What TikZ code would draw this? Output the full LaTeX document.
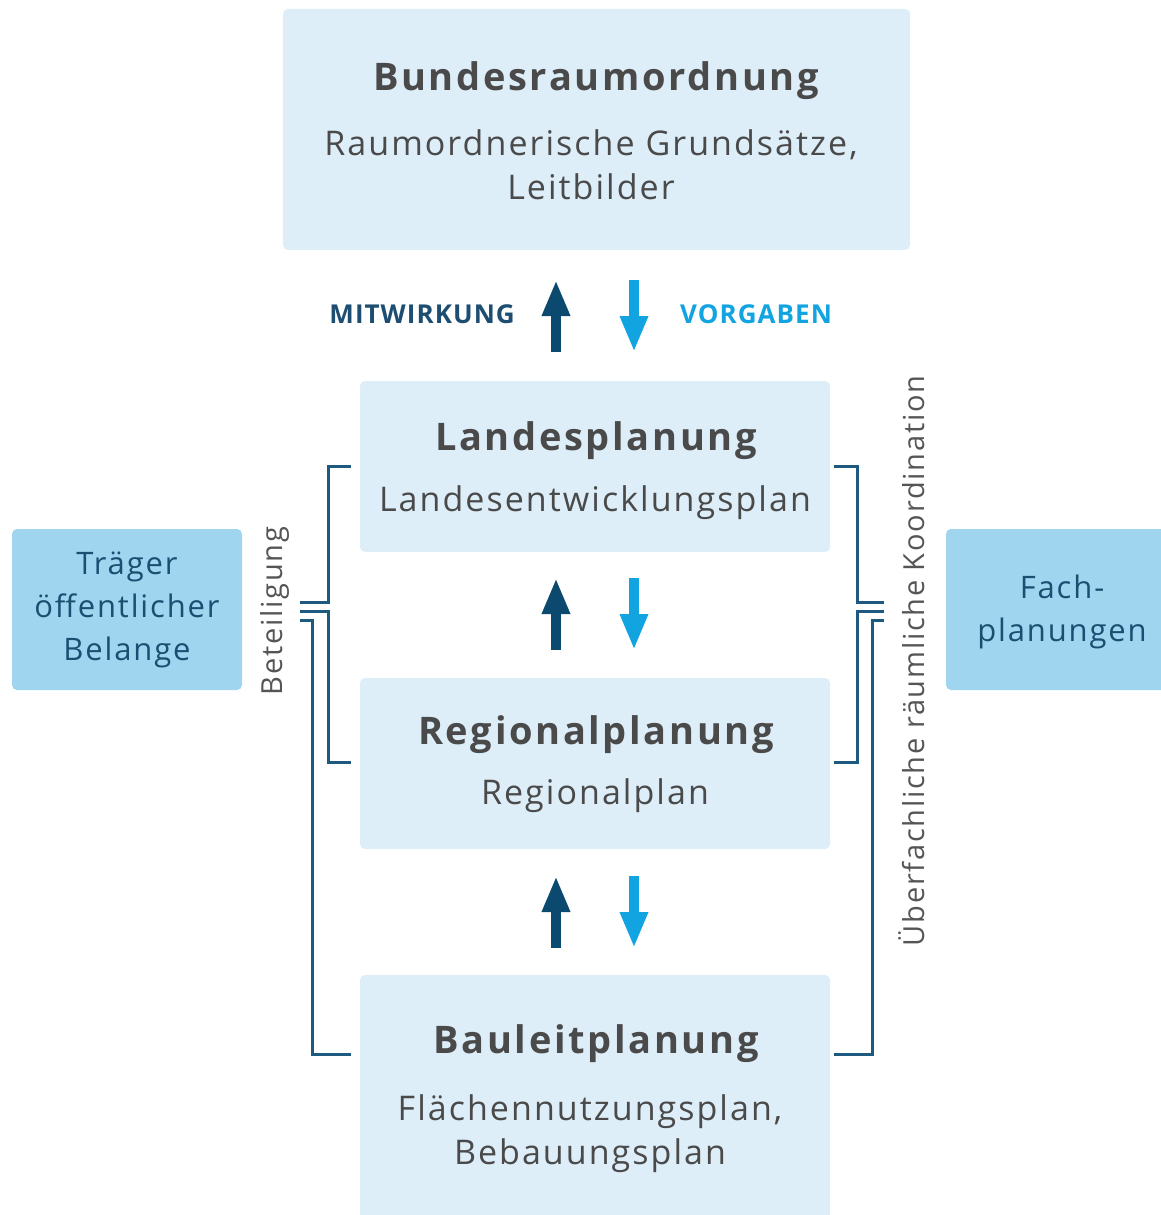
\documentclass[tikz,border=0pt]{standalone}
\usepackage{fontspec}
\setmainfont{Open Sans}
\newfontfamily\spacedfont[LetterSpace=6]{Open Sans}
\newfontfamily\spacedbold[LetterSpace=7]{Open Sans}
\newfontfamily\spacedlab[LetterSpace=4]{Open Sans}
\usetikzlibrary{arrows.meta}
\definecolor{boxlight}{HTML}{DDEEF9}
\definecolor{boxblue}{HTML}{9FD5EF}
\definecolor{titlegray}{HTML}{4A4A4A}
\definecolor{textblue}{HTML}{1B4F72}
\definecolor{brack}{HTML}{1E5A80}
\definecolor{labblue}{HTML}{1D4E72}
\definecolor{darkarrow}{HTML}{0B4A6E}
\definecolor{lightarrow}{HTML}{12A4E1}
\definecolor{labgray}{HTML}{555555}
\begin{document}
\begin{tikzpicture}[x=1pt,y=-1pt,
  lbox/.style={fill=boxlight,draw=none,rounded corners=5pt},
  bbox/.style={fill=boxblue,draw=none,rounded corners=5pt},
  ttl/.style={text=titlegray,font=\spacedbold\fontsize{38}{40}\selectfont\bfseries,inner sep=0pt},
  sub/.style={text=titlegray,font=\spacedfont\fontsize{34}{44}\selectfont,align=center,inner sep=0pt},
  btxt/.style={text=textblue,font=\spacedfont\fontsize{31}{43}\selectfont,align=center,inner sep=0pt},
  side/.style={text=labgray,font=\spacedfont\fontsize{29}{30}\selectfont,inner sep=0pt,rotate=90},
  brk/.style={draw=brack,line width=3pt},
  uparr/.style={draw=darkarrow,line width=10pt,-{Triangle[length=36pt,width=26pt]}},
  dnarr/.style={draw=lightarrow,line width=10pt,-{Triangle[length=36pt,width=26pt]}},
  lab/.style={font=\spacedlab\fontsize{26}{26}\selectfont\bfseries,inner sep=0pt}]
\useasboundingbox (0,0) rectangle (1161,1215);
% boxes
\path[lbox] (283,9) rectangle (910,250);
\path[lbox] (360,381) rectangle (830,552);
\path[lbox] (360,678) rectangle (830,849);
\path[lbox] (360,975) rectangle (830,1225);
\path[bbox] (12,529) rectangle (242,690);
\path[bbox] (946,529) rectangle (1175,690);
% texts
\node[ttl] (bt) at (596,81) {Bundesraumordnung};
\node[sub] (bs) at (591,165) {Raumordnerische Grundsätze,\\Leitbilder};
\node[ttl] (lt) at (596,441) {Landesplanung};
\node[sub] (ls) at (595,503) {Landesentwicklungsplan};
\node[ttl] (rt) at (596,735) {Regionalplanung};
\node[sub] (rs) at (595,796) {Regionalplan};
\node[ttl] (blt) at (596,1044) {Bauleitplanung};
\node[sub] (bls) at (590,1134) {Flächennutzungsplan,\\Bebauungsplan};
\node[btxt] (tr) at (127,610) {Träger\\öffentlicher\\Belange};
\node[btxt] (fa) at (1062,612) {Fach-\\planungen};
\node[side] (bet) at (275,611) {Beteiligung};
\node[side] (ueb) at (912,661) {Überfachliche räumliche Koordination};
\node[lab,text=labblue,anchor=east] (mw) at (515,314) {MITWIRKUNG};
\node[lab,text=lightarrow,anchor=west] (vg) at (680,314) {VORGABEN};
% arrows
\coordinate (a1s) at (556,352); \coordinate (a1e) at (556,280);
\coordinate (b1s) at (634,280); \coordinate (b1e) at (634,352);
\coordinate (a2s) at (556,650); \coordinate (a2e) at (556,578);
\coordinate (b2s) at (634,578); \coordinate (b2e) at (634,650);
\coordinate (a3s) at (556,948); \coordinate (a3e) at (556,876);
\coordinate (b3s) at (634,876); \coordinate (b3e) at (634,948);
\draw[uparr] (a1s) -- (a1e);
\draw[dnarr] (b1s) -- (b1e);
\draw[uparr] (a2s) -- (a2e);
\draw[dnarr] (b2s) -- (b2e);
\draw[uparr] (a3s) -- (a3e);
\draw[dnarr] (b3s) -- (b3e);
% left brackets
\draw[brk] (351,466) -- (328,466) -- (328,602) -- (300,602);
\draw[brk] (300,611) -- (328,611) -- (328,762) -- (351,762);
\draw[brk] (300,620) -- (312,620) -- (312,1054) -- (351,1054);
% right brackets
\draw[brk] (834,466) -- (857,466) -- (857,602) -- (884,602);
\draw[brk] (884,611) -- (857,611) -- (857,762) -- (834,762);
\draw[brk] (884,620) -- (872,620) -- (872,1054) -- (834,1054);
\end{tikzpicture}
\end{document}
